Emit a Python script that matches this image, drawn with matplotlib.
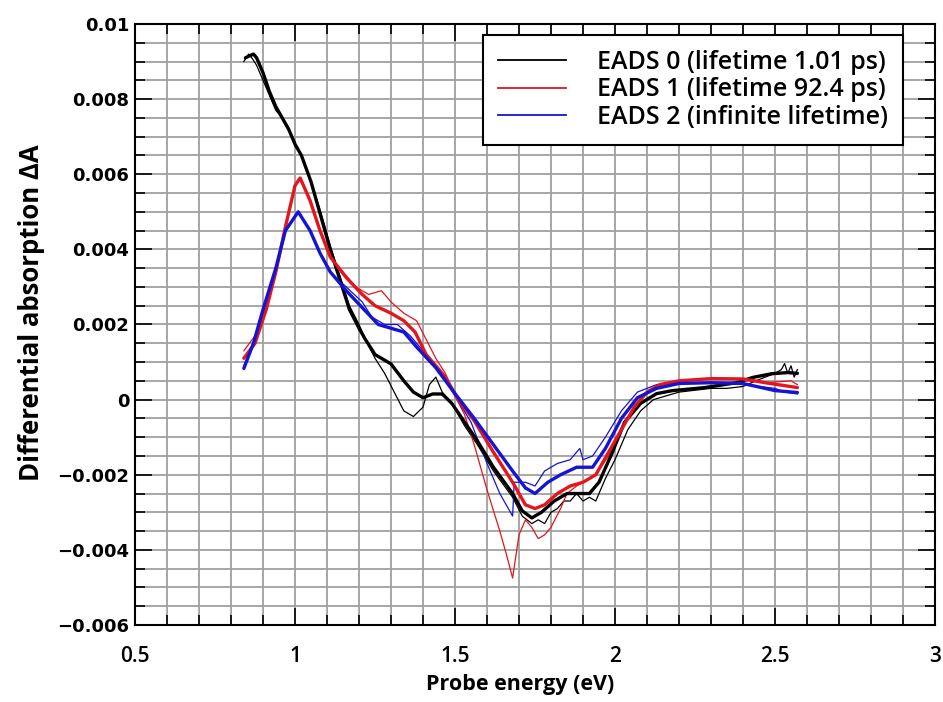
import numpy as np
import matplotlib
matplotlib.use("Agg")
import matplotlib.pyplot as plt
from matplotlib.ticker import MultipleLocator

# EADS 0 (lifetime 1.01 ps): smooth fit and raw spectrum
e0_fit = [0.845, 0.87, 0.88, 0.90, 0.92, 0.94, 0.96, 0.98, 1.00, 1.02, 1.05, 1.08, 1.11, 1.14,
          1.17, 1.20, 1.22, 1.25, 1.30, 1.34, 1.37, 1.40, 1.43, 1.46, 1.49, 1.53, 1.57, 1.62,
          1.68, 1.71, 1.74, 1.77, 1.81, 1.85, 1.92, 1.95, 1.99, 2.03, 2.08, 2.13, 2.18, 2.28,
          2.38, 2.43, 2.49, 2.54, 2.57]
a0_fit = [0.0091, 0.0092, 0.0091, 0.0087, 0.0082, 0.0078, 0.0075, 0.0072, 0.0068, 0.0065,
          0.0058, 0.0049, 0.0040, 0.0032, 0.0024, 0.0019, 0.0016, 0.0012, 0.00095, 0.0005,
          0.0002, 0.00005, 0.00015, 0.00015, -0.0001, -0.0006, -0.0011, -0.0018, -0.0025,
          -0.00296, -0.00315, -0.0030, -0.0027, -0.0025, -0.0025, -0.0022, -0.00144, -0.0006,
          -0.0001, 0.00016, 0.00024, 0.00032, 0.00045, 0.00059, 0.00069, 0.00072, 0.0007]
e0_raw = [0.84, 0.855, 0.865, 0.88, 0.90, 0.92, 0.94, 0.96, 0.98, 1.00, 1.02, 1.05, 1.08,
          1.11, 1.14, 1.17, 1.20, 1.22, 1.25, 1.28, 1.31, 1.34, 1.37, 1.40, 1.42, 1.44, 1.46,
          1.49, 1.53, 1.57, 1.62, 1.68, 1.71, 1.74, 1.76, 1.78, 1.80, 1.82, 1.84, 1.86, 1.88,
          1.90, 1.92, 1.94, 1.97, 2.00, 2.04, 2.08, 2.12, 2.16, 2.20, 2.25, 2.30, 2.35, 2.40,
          2.44, 2.47, 2.50, 2.52, 2.53, 2.54, 2.55, 2.56, 2.57]
a0_raw = [0.0090, 0.0092, 0.0091, 0.0089, 0.0085, 0.0081, 0.0077, 0.0075, 0.0072, 0.0068,
          0.0065, 0.0058, 0.0050, 0.0041, 0.0033, 0.0025, 0.0020, 0.0016, 0.0011, 0.0007,
          0.0002, -0.0003, -0.00045, -0.0002, 0.0004, 0.0006, 0.0002, -0.0001, -0.0007,
          -0.0012, -0.0019, -0.0026, -0.0031, -0.0033, -0.0032, -0.0033, -0.0030, -0.0029,
          -0.0027, -0.0027, -0.0025, -0.0027, -0.0026, -0.0027, -0.0021, -0.0016, -0.0008,
          -0.0003, 0.0000, 0.0001, 0.0002, 0.00025, 0.0003, 0.0003, 0.00035, 0.0005, 0.0006,
          0.0007, 0.0008, 0.00096, 0.0007, 0.0009, 0.0006, 0.0008]

# EADS 1 (lifetime 92.4 ps)
e1_fit = [0.84, 0.875, 0.91, 0.94, 0.97, 1.00, 1.016, 1.047, 1.078, 1.11, 1.16, 1.21, 1.25,
          1.30, 1.34, 1.375, 1.41, 1.47, 1.51, 1.56, 1.62, 1.68, 1.72, 1.75, 1.78, 1.82, 1.86,
          1.90, 1.94, 1.98, 2.02, 2.06, 2.10, 2.14, 2.20, 2.30, 2.40, 2.47, 2.57]
a1_fit = [0.0011, 0.0015, 0.0024, 0.0034, 0.0046, 0.0057, 0.0059, 0.0053, 0.0045, 0.0038,
          0.00325, 0.0028, 0.0025, 0.0023, 0.0021, 0.0018, 0.0012, 0.0006, 0.0, -0.00056,
          -0.0014, -0.0022, -0.0028, -0.0029, -0.0028, -0.0025, -0.0023, -0.0022, -0.0020,
          -0.0014, -0.0008, -0.0002, 0.0002, 0.0004, 0.0005, 0.00056, 0.00055, 0.00045, 0.00032]
e1_raw = [0.84, 0.875, 0.91, 0.94, 0.97, 1.00, 1.016, 1.047, 1.078, 1.11, 1.15, 1.19, 1.23,
          1.27, 1.30, 1.34, 1.38, 1.41, 1.44, 1.47, 1.50, 1.53, 1.56, 1.60, 1.64, 1.66, 1.68,
          1.70, 1.72, 1.74, 1.76, 1.78, 1.80, 1.83, 1.85, 1.88, 1.90, 1.94, 1.98, 2.02, 2.06,
          2.10, 2.14, 2.20, 2.30, 2.40, 2.47, 2.55, 2.57]
a1_raw = [0.0013, 0.0017, 0.0025, 0.0035, 0.0046, 0.0057, 0.0059, 0.0053, 0.0045, 0.0038,
          0.0034, 0.0030, 0.0028, 0.0029, 0.0026, 0.0023, 0.0021, 0.0016, 0.0011, 0.0007,
          0.0001, -0.0004, -0.0012, -0.0024, -0.0035, -0.0041, -0.00475, -0.0036, -0.0032,
          -0.0034, -0.0037, -0.0036, -0.0034, -0.0029, -0.0025, -0.0023, -0.0022, -0.0020,
          -0.0015, -0.0008, -0.0002, 0.0002, 0.0004, 0.0005, 0.00055, 0.00055, 0.00045,
          0.0005, 0.0004]

# EADS 2 (infinite lifetime)
e2_fit = [0.84, 0.87, 0.90, 0.94, 0.97, 1.01, 1.047, 1.078, 1.11, 1.16, 1.21, 1.26, 1.30,
          1.34, 1.38, 1.44, 1.50, 1.56, 1.62, 1.68, 1.72, 1.75, 1.79, 1.83, 1.88, 1.93, 1.97,
          2.02, 2.07, 2.13, 2.20, 2.30, 2.40, 2.50, 2.57]
a2_fit = [0.00083, 0.0015, 0.0024, 0.0035, 0.0045, 0.0050, 0.0045, 0.0039, 0.0034, 0.0029,
          0.00245, 0.0020, 0.0019, 0.0018, 0.0014, 0.00085, 0.00016, -0.0005, -0.0012, -0.0019,
          -0.00235, -0.0025, -0.0022, -0.0020, -0.0018, -0.0018, -0.0013, -0.0005, 0.00005,
          0.0003, 0.00043, 0.00045, 0.00043, 0.00024, 0.00019]
e2_raw = [0.84, 0.87, 0.90, 0.94, 0.97, 1.01, 1.047, 1.078, 1.11, 1.16, 1.21, 1.24, 1.28,
          1.32, 1.36, 1.40, 1.44, 1.50, 1.55, 1.60, 1.64, 1.68, 1.685, 1.72, 1.75, 1.78, 1.82,
          1.86, 1.89, 1.90, 1.93, 1.97, 2.02, 2.07, 2.13, 2.20, 2.30, 2.40, 2.50, 2.53, 2.57]
a2_raw = [0.0009, 0.0015, 0.0024, 0.0035, 0.0045, 0.0050, 0.0045, 0.0039, 0.0034, 0.0030,
          0.0026, 0.0022, 0.0020, 0.0020, 0.0017, 0.0013, 0.0009, 0.0001, -0.0006, -0.0017,
          -0.0025, -0.0031, -0.0022, -0.0022, -0.0023, -0.0019, -0.0017, -0.0016, -0.0013,
          -0.0016, -0.0015, -0.0010, -0.0003, 0.0002, 0.0004, 0.00045, 0.00045, 0.0004,
          0.0003, 0.0002, 0.00015]

labels = ["EADS 0 (lifetime 1.01 ps)", "EADS 1 (lifetime 92.4 ps)", "EADS 2 (infinite lifetime)"]
colors = ["black", "#e3161c", "#1414d2"]

fig = plt.figure(figsize=(9.43, 7.02), dpi=100)
ax = fig.add_axes([0.1432, 0.1097, 0.8483, 0.8561])

series = [(e0_fit, a0_fit, e0_raw, a0_raw), (e1_fit, a1_fit, e1_raw, a1_raw),
          (e2_fit, a2_fit, e2_raw, a2_raw)]

# thin raw spectra first, fits drawn on top
handles = []
for (ef, af, er, ar), col, lab in zip(series, colors, labels):
    h, = ax.plot(er, ar, color=col, lw=0.9, label=lab, zorder=3)
    handles.append(h)
for (ef, af, er, ar), col in zip(series, colors):
    ax.plot(ef, af, color=col, lw=2.4, solid_capstyle="round", zorder=4)

ax.set_xlim(0.5, 3)
ax.set_ylim(-0.006, 0.01)
ax.xaxis.set_major_locator(MultipleLocator(0.5))
ax.xaxis.set_minor_locator(MultipleLocator(0.1))
ax.yaxis.set_major_locator(MultipleLocator(0.002))
ax.yaxis.set_minor_locator(MultipleLocator(0.0005))
ax.grid(which="both", color="#a0a0a0", lw=1.3, zorder=1)
ax.set_axisbelow(True)

ax.tick_params(which="both", direction="in", top=True, right=True, color="black")
ax.tick_params(which="major", length=12, width=1.2)
ax.tick_params(which="minor", length=7, width=1.2)
for sp in ax.spines.values():
    sp.set_linewidth(1.5)

ax.set_xticks([0.5, 1, 1.5, 2, 2.5, 3])
ax.set_xticklabels(["0.5", "1", "1.5", "2", "2.5", "3"], fontfamily="Open Sans",
                   fontweight="semibold", fontsize=15)
yt = [-0.006, -0.004, -0.002, 0, 0.002, 0.004, 0.006, 0.008, 0.01]
ax.set_yticks(yt)
ax.set_yticklabels(["\u22120.006", "\u22120.004", "\u22120.002", "0", "0.002", "0.004",
                    "0.006", "0.008", "0.01"], fontfamily="DejaVu Sans",
                   fontweight="bold", fontsize=13)
ax.tick_params(axis="x", pad=15)
ax.tick_params(axis="y", pad=4)

ax.set_xlabel("Probe energy (eV)", fontfamily="Open Sans", fontweight="bold",
              fontsize=15.5, labelpad=6)
ax.xaxis.set_label_coords(0.481, -0.082)
ax.set_ylabel("Differential absorption \u0394A", fontfamily="Open Sans",
              fontweight="bold", fontsize=18.5, labelpad=6)
ax.yaxis.set_label_coords(-0.113, 0.52)

leg = ax.legend(handles=handles, loc="upper right", bbox_to_anchor=(0.96, 0.982),
                prop={"family": "Open Sans", "weight": "semibold", "size": 18},
                fancybox=False, framealpha=1, edgecolor="black", handlelength=2.7,
                borderpad=0.6, labelspacing=0.1, handletextpad=1.25, borderaxespad=0)
leg.get_frame().set_linewidth(1.5)
leg.set_zorder(6)
for ln in leg.get_lines():
    ln.set_linewidth(1.3)

fig.savefig("out.png", dpi=100)
